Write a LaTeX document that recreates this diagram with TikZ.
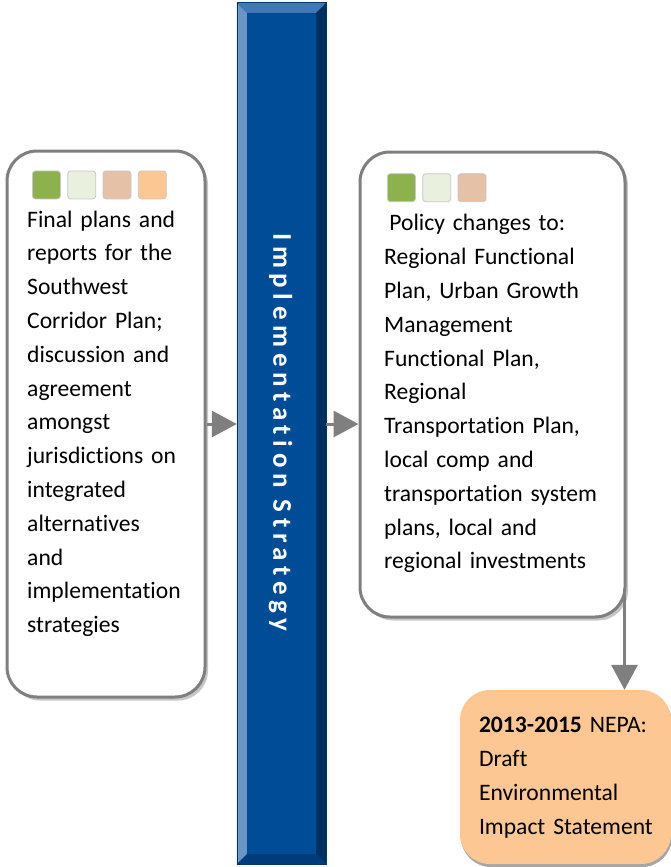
\documentclass[tikz,border=0pt]{standalone}
\usepackage{fontspec}
\setmainfont[Ligatures=NoCommon]{Carlito}
\usepackage{xcolor}
\usepackage{tikz}
\usetikzlibrary{positioning,calc,arrows.meta,shadows}

\definecolor{cardgray}{RGB}{127,127,127}
\definecolor{chipgreen}{RGB}{141,178,76}
\definecolor{chiplight}{RGB}{233,240,222}
\definecolor{chiptan}{RGB}{229,193,167}
\definecolor{chippeach}{RGB}{252,199,146}
\definecolor{barblue}{RGB}{0,76,151}
\definecolor{bevlight}{RGB}{106,150,198}
\definecolor{bevtop}{RGB}{66,118,182}
\definecolor{bevdark}{RGB}{0,48,96}
\definecolor{bevbottom}{RGB}{0,60,122}

\tikzset{card/.style={draw=cardgray,line width=3pt,rounded corners=30pt,fill=white,inner sep=0pt,
    drop shadow={shadow xshift=3pt,shadow yshift=-3.5pt,fill=black!22,opacity=1}}}
\tikzset{chip/.style={draw=black!22,line width=0.8pt,rounded corners=3pt,minimum size=28pt,inner sep=0pt}}
\tikzset{body/.style={align=left,inner sep=0pt,anchor=north west,
    font=\fontsize{23.6}{33.8}\selectfont}}
\tikzset{flow/.style={draw=cardgray,line width=3pt,-{Triangle[length=25pt,width=26pt]}}}

\begin{document}
\begin{tikzpicture}[x=1pt,y=-1pt]
    \useasboundingbox (0,0) rectangle (671,867);

    % left card
    \node [card,minimum width=198pt,minimum height=546pt] (final) at (106,424) {};
    \node [chip,fill=chipgreen,below right=21pt and 26.5pt of final.north west] (fa) {};
    \node [chip,fill=chiplight,right=6.5pt of fa] (fb) {};
    \node [chip,fill=chiptan,right=6.5pt of fb] (fc) {};
    \node [chip,fill=chippeach,right=6.5pt of fc] (fd) {};
    \node [body,text width=180pt,below right=4pt and -5pt of fa.south west] (finaltext)
      {\strut Final plans and\\reports for the\\Southwest\\Corridor Plan;\\discussion and\\agreement\\amongst\\jurisdictions on\\integrated\\alternatives\\and\\implementation\\strategies};

    % strategy bar
    \node [fill=barblue,minimum width=89pt,minimum height=861pt,inner sep=0pt] (bar) at (281.5,433.5) {};
    \fill [bevlight] (bar.north west) -- (bar.south west) -- ($(bar.south west)+(10pt,10pt)$) -- ($(bar.north west)+(10pt,-10pt)$) -- cycle;
    \fill [bevtop] (bar.north west) -- (bar.north east) -- ($(bar.north east)+(-10pt,-10pt)$) -- ($(bar.north west)+(10pt,-10pt)$) -- cycle;
    \fill [bevdark] (bar.north east) -- (bar.south east) -- ($(bar.south east)+(-10pt,10pt)$) -- ($(bar.north east)+(-10pt,-10pt)$) -- cycle;
    \fill [bevbottom] (bar.south west) -- (bar.south east) -- ($(bar.south east)+(-10pt,10pt)$) -- ($(bar.south west)+(10pt,10pt)$) -- cycle;
    \draw [barblue!70!black,line width=0.6pt] (bar.north west) rectangle (bar.south east);
    \node [rotate=-90,text=white,inner sep=0pt] (bartext) at ($(bar.center)+(-1pt,1pt)$)
      {\fontsize{27}{32}\selectfont\bfseries\addfontfeature{LetterSpace=21}Implementation Strategy};

    % right card
    \node [card,minimum width=265pt,minimum height=465pt] (policy) at (492.5,384.5) {};
    \node [chip,fill=chipgreen,below right=22.8pt and 28.5pt of policy.north west] (pa) {};
    \node [chip,fill=chiplight,right=6.5pt of pa] (pb) {};
    \node [chip,fill=chiptan,right=6.5pt of pb] (pc) {};
    \node [body,text width=250pt,below right=5pt and -3pt of pa.south west] (policytext)
      {\strut\hspace*{0.22em}Policy changes to:\\Regional Functional\\Plan, Urban Growth\\Management\\Functional Plan,\\Regional\\Transportation Plan,\\local comp and\\transportation system\\plans, local and\\regional investments};

    % NEPA card
    \node [fill=chippeach,rounded corners=30pt,minimum width=211pt,minimum height=174pt,inner sep=0pt,
      drop shadow={shadow xshift=1pt,shadow yshift=-3pt,fill=black!35,opacity=1}] (nepa) at (565.5,777) {};
    \node [body,text width=180pt,below right=19pt and 19pt of nepa.north west] (nepatext)
      {\strut\textbf{2013-2015} NEPA:\\Draft\\Environmental\\Impact Statement};

    \coordinate (drop) at ($(policy.south east)+(-2pt,30pt)$);
    \draw [flow] (final.east) -- (final.east -| bar.west);
    \draw [flow] (final.east -| bar.east) -- (final.east -| policy.west);
    \draw [flow] (drop) -- (drop |- nepa.north);
\end{tikzpicture}
\end{document}
